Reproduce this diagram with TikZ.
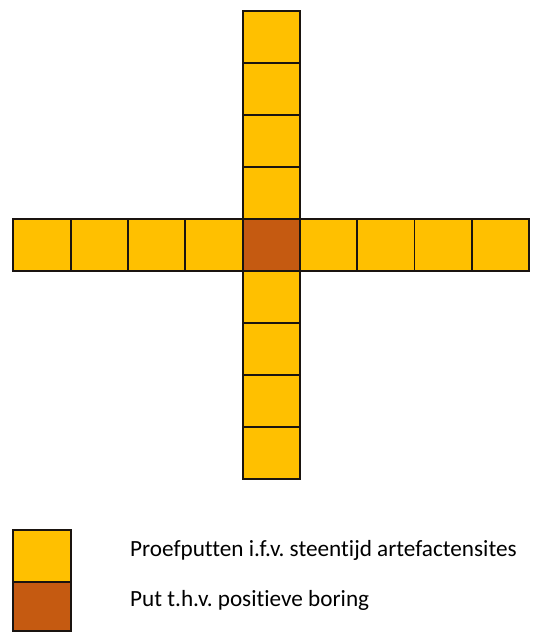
\documentclass[tikz,border=0pt]{standalone}
\usepackage{fontspec}
\setmainfont{Carlito}[Ligatures={NoCommon}]
\frenchspacing
\definecolor{pityellow}{HTML}{FFC000}
\definecolor{pitorange}{HTML}{C55A11}
\definecolor{pitline}{HTML}{1A1410}
\begin{document}
\begin{tikzpicture}[x=1pt,y=-1pt,
  cell/.style={draw=pitline,line width=1.8pt,inner sep=0pt,minimum width=57.3pt,minimum height=52pt,fill=pityellow},
  poscell/.style={cell,fill=pitorange},
  legtext/.style={anchor=base west,inner sep=0pt,font=\fontsize{23.2}{27}\selectfont}]
\useasboundingbox (0,0) rectangle (536,632);
% horizontal row
\foreach \i in {0,1,2,3,5,6,7,8}{
  \node[cell] (h\i) at ({13.3+57.3*(\i+0.5)},245) {};
}
% vertical column
\foreach \j in {0,1,2,3,5,6,7,8}{
  \node[cell] (v\j) at (271.5,{11+52*(\j+0.5)}) {};
}
\node[poscell] (c) at (271.5,245) {};
% legend
\node[cell] (ly) at (42,556) {};
\node[cell,fill=pitorange,minimum height=49pt] (lo) at (42,606.5) {};
\node[legtext] (ty) at (130,556) {Proefputten i.f.v. steentijd artefactensites};
\node[legtext] (to) at (130,606) {Put t.h.v. positieve boring};
\end{tikzpicture}
\end{document}
